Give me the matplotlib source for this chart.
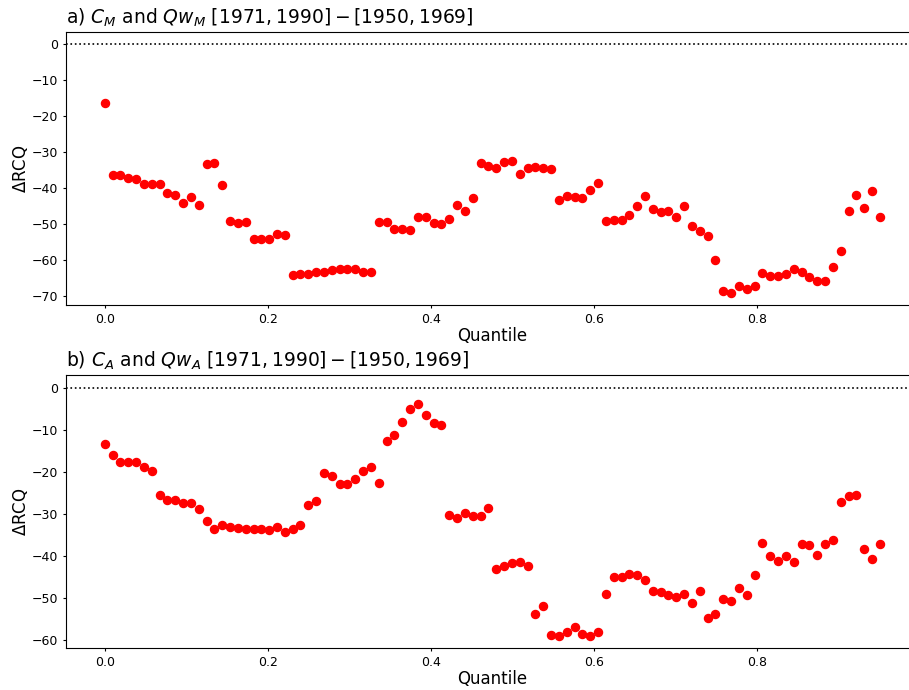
import numpy as np
import matplotlib
matplotlib.use("Agg")
import matplotlib.pyplot as plt

# quantile grid (100 levels from 0 to 0.95)
quantiles = np.linspace(0, 0.95, 100)

# delta RCQ, C_M and Qw_M
drcq_m = [-16.3, -36.4, -36.4, -37.2, -37.6, -38.9, -38.9, -38.9, -41.5, -41.9,
          -44.2, -42.5, -44.7, -33.2, -33.1, -39.1, -49.2, -49.7, -49.5, -54.1,
          -54.1, -54.2, -52.9, -53.1, -64.3, -63.9, -63.8, -63.5, -63.4, -62.7,
          -62.6, -62.6, -62.6, -63.3, -63.3, -49.4, -49.4, -51.5, -51.5, -51.7,
          -48.1, -48.2, -49.7, -49.9, -48.7, -44.8, -46.5, -42.8, -33.1, -33.8,
          -34.4, -32.7, -32.4, -36.2, -34.4, -34.2, -34.5, -34.6, -43.4, -42.2,
          -42.4, -42.9, -40.6, -38.6, -49.2, -48.9, -48.8, -47.6, -44.9, -42.1,
          -45.9, -46.6, -46.4, -48.0, -44.9, -50.7, -51.9, -53.3, -60.0, -68.6,
          -69.1, -67.3, -68.1, -67.3, -63.7, -64.4, -64.4, -64.0, -62.4, -63.5,
          -64.8, -65.9, -65.9, -62.0, -57.6, -46.5, -41.9, -45.6, -40.9, -48.0]

# delta RCQ, C_A and Qw_A
drcq_a = [-13.3, -16.0, -17.6, -17.6, -17.6, -18.8, -19.7, -25.6, -26.6, -26.8,
          -27.5, -27.5, -28.9, -31.6, -33.7, -32.6, -33.1, -33.3, -33.7, -33.7,
          -33.5, -33.8, -33.1, -34.2, -33.7, -32.6, -28.0, -26.9, -20.3, -21.0,
          -22.9, -23.0, -21.7, -19.9, -18.8, -22.6, -12.8, -11.2, -8.1, -5.0,
          -4.0, -6.5, -8.3, -9.0, -30.2, -30.9, -29.8, -30.4, -30.4, -28.5,
          -43.1, -42.3, -41.6, -41.4, -42.3, -53.7, -52.0, -58.7, -59.0, -58.1,
          -56.9, -58.5, -59.0, -58.1, -49.0, -45.1, -45.1, -44.4, -44.5, -45.7,
          -48.3, -48.5, -49.4, -49.7, -49.1, -51.3, -48.4, -54.7, -53.9, -50.3,
          -50.6, -47.7, -49.4, -44.6, -37.0, -40.1, -41.3, -40.1, -41.4, -37.1,
          -37.5, -39.7, -37.1, -36.3, -27.1, -25.8, -25.6, -38.3, -40.7, -37.2]

titles = [r"a) $C_M$ and $Qw_M$ $[1971, 1990] - [1950, 1969]$",
          r"b) $C_A$ and $Qw_A$ $[1971, 1990] - [1950, 1969]$"]

fig = plt.figure(figsize=(9.09, 6.90), dpi=100)
# axes run past the right edge, as in the cropped original
ax1 = fig.add_axes([0.0726, 0.558, 0.938, 0.3957])
ax2 = fig.add_axes([0.0726, 0.0605, 0.938, 0.3957])

for ax, vals, title in zip([ax1, ax2], [drcq_m, drcq_a], titles):
    ax.axhline(0, color="black", linestyle=":", linewidth=1.2)
    ax.plot(quantiles, vals, "o", color="red", markersize=5.8)
    ax.set_title(title, loc="left", fontsize=13.5)
    ax.set_xlabel("Quantile", fontsize=12, labelpad=1)
    ax.set_ylabel(r"$\Delta$RCQ", fontsize=12, labelpad=1)
    ax.tick_params(labelsize=9, length=2.5, pad=3)

fig.savefig("out.png", dpi=100)
